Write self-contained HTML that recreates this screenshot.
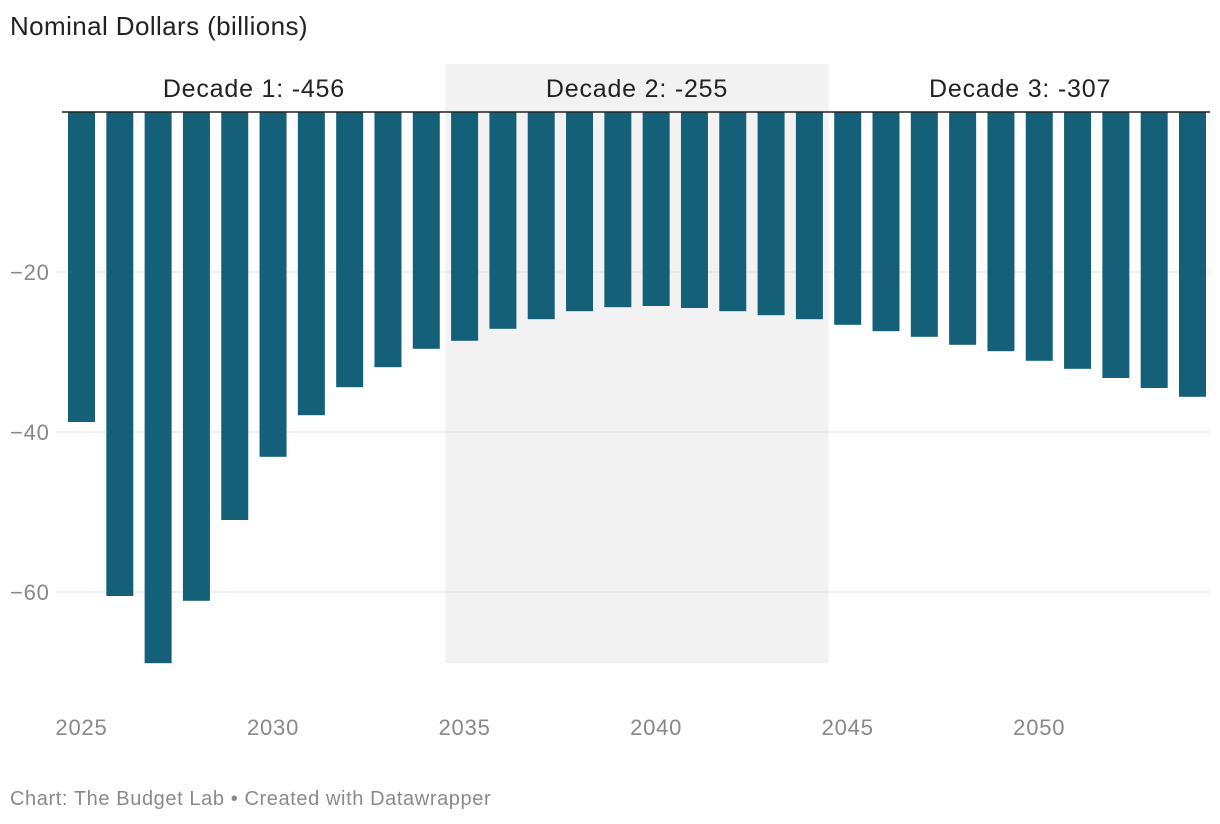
<!DOCTYPE html>
<html><head><meta charset="utf-8"><style>
body{margin:0;background:#fff;font-family:"Liberation Sans",sans-serif;}
#wrap{position:relative;width:1220px;height:824px;overflow:hidden}
.t{position:absolute;white-space:nowrap}
</style></head><body>
<div id="wrap">
<div class="t" style="left:10px;top:11px;font-size:26px;letter-spacing:0.4px;color:#222">Nominal Dollars (billions)</div>
<svg id="chart" width="1220" height="780" style="position:absolute;left:0;top:0"></svg>
<div class="t" style="left:10px;top:788px;font-size:20px;letter-spacing:0.6px;color:#8a8a8a">Chart: The Budget Lab • Created with Datawrapper</div>
</div>
<script>
const years=[2025,2026,2027,2028,2029,2030,2031,2032,2033,2034,2035,2036,2037,2038,2039,2040,2041,2042,2043,2044,2045,2046,2047,2048,2049,2050,2051,2052,2053,2054];
const values=[-38.75,-60.5,-68.9,-61.1,-51,-43.1,-37.9,-34.4,-31.9,-29.6,-28.6,-27.1,-25.9,-24.9,-24.4,-24.25,-24.5,-24.9,-25.4,-25.9,-26.6,-27.4,-28.1,-29.1,-29.9,-31.1,-32.1,-33.25,-34.5,-35.6];
const yTicks=[-20,-40,-60];
const xTicks=[2025,2030,2035,2040,2045,2050];
const decadeLabels=["Decade 1: -456","Decade 2: -255","Decade 3: -307"];
const decadeStart=[2025,2035,2045];

const NS="http://www.w3.org/2000/svg";
const svg=document.getElementById('chart');
const y=v=>112-v*8;
const pitch=38.31, bw=27;
const xc=yr=>81.5+(yr-2025)*pitch;
function mk(t,a){const e=document.createElementNS(NS,t);for(const k in a)e.setAttribute(k,a[k]);svg.appendChild(e);return e;}
const minV=Math.min(...values);
const sh=mk('rect',{x:(xc(2034)+xc(2035))/2,y:64,width:(xc(2044)+xc(2045))/2-(xc(2034)+xc(2035))/2,height:y(minV)-64,fill:'#f2f2f2'});


yTicks.forEach(v=>{
 const l=mk('line',{x1:10,x2:1210,y1:y(v),y2:y(v),stroke:'#e0e0e0','stroke-width':1});
 
 
 const r=mk('rect',{x:8,y:y(v)-13,width:48,height:26,fill:'#fff'});
 
 
 const t=mk('text',{x:10,y:y(v)+8,'font-size':22,'letter-spacing':0.8,fill:'#888'});t.textContent='\u2212'+(-v);
 
 
});
years.forEach((yr,i)=>{
 const v=values[i];
 const b=mk('rect',{x:xc(yr)-bw/2,y:y(0),width:bw,height:y(v)-y(0),fill:'#156079'});
 
 
});
const z=mk('line',{x1:62,x2:1210,y1:y(0),y2:y(0),stroke:'#222','stroke-width':1.5});


xTicks.forEach(yr=>{
 const t=mk('text',{x:xc(yr),y:735,'font-size':22,'letter-spacing':0.8,fill:'#888','text-anchor':'middle'});t.textContent=yr;
 
 
});
decadeLabels.forEach((s,i)=>{
 const cx=(xc(decadeStart[i])+xc(decadeStart[i]+9))/2;
 const t=mk('text',{x:cx,y:97,'font-size':25,'letter-spacing':0.8,fill:'#222','text-anchor':'middle'});t.textContent=s;
 
 
});
</script>
</body></html>
